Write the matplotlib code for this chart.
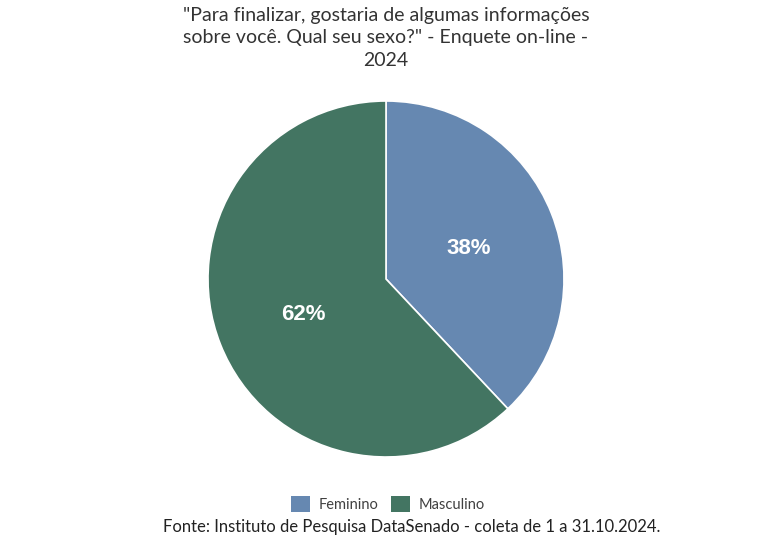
import numpy as np
import matplotlib.pyplot as plt
from matplotlib.patches import Patch

labels = ['Feminino', 'Masculino']
values = [38, 62]
colors = ['#6688B1', '#437562']
title = '"Para finalizar, gostaria de algumas informações\nsobre você. Qual seu sexo?" - Enquete on-line -\n2024'
source = 'Fonte: Instituto de Pesquisa DataSenado - coleta de 1 a 31.10.2024.'

plt.rcParams['font.family'] = ['Lato', 'DejaVu Sans']

fig = plt.figure(figsize=(7.68, 5.48), dpi=100)
ax = fig.add_axes([386 / 768 - 178 / 768, 1 - 279 / 548 - 178 / 548, 356 / 768, 356 / 548])

wedges, texts = ax.pie(values, colors=colors, startangle=90, counterclock=False,
                       wedgeprops=dict(edgecolor='white', linewidth=1.2))
for w, v in zip(wedges, values):
    ang = np.deg2rad((w.theta1 + w.theta2) / 2)
    ax.text(0.5 * np.cos(ang), 0.5 * np.sin(ang) - 0.015, f'{v}%', ha='center', va='center',
            color='white', fontsize=16, fontweight='bold', family='Liberation Sans')
ax.set_xlim(-1, 1)
ax.set_ylim(-1, 1)
ax.set_aspect('equal')

fig.text(386 / 768, 1 - 7 / 548, title, ha='center', va='top', fontsize=14,
         color='#333333', linespacing=1.38)

handles = [Patch(facecolor=c, edgecolor='none') for c in colors]
fig.legend(handles, labels, loc='center', bbox_to_anchor=(388 / 768, 1 - 504 / 548),
           ncol=2, frameon=False, fontsize=10.5, handlelength=1.3, handleheight=1.3,
           handletextpad=0.6, columnspacing=0.9, labelcolor='#404040')

fig.text(412 / 768, 1 - 527 / 548, source, ha='center', va='center', fontsize=12,
         color='#222222')

fig.savefig('out.png', dpi=100)
